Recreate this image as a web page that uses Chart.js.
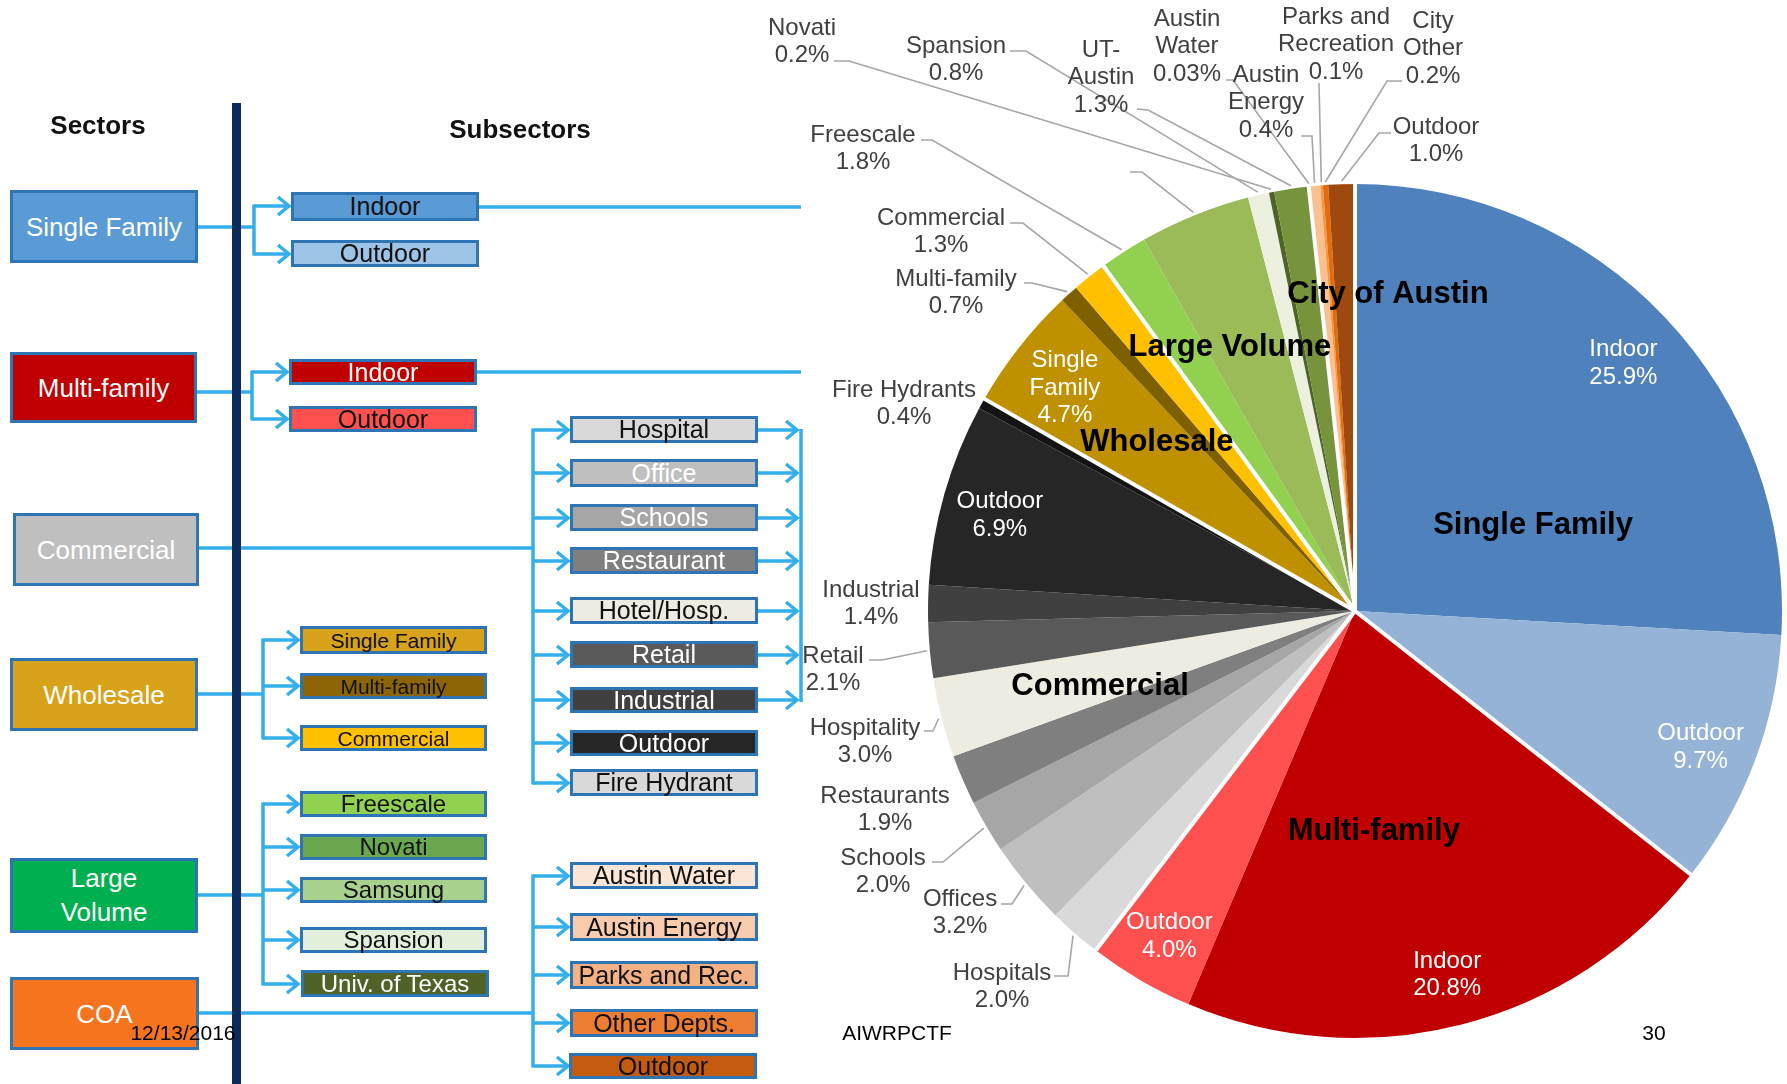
<!DOCTYPE html>
<html>
<head>
<meta charset="utf-8">
<script src="https://cdn.jsdelivr.net/npm/chart.js@4.4.1/dist/chart.umd.min.js"></script>
<style>
html,body{margin:0;padding:0;background:#fff;}
#stage{position:relative;width:1787px;height:1084px;overflow:hidden;font-family:"Liberation Sans",Arial,sans-serif;background:#fff;}
#pie{position:absolute;left:0;top:0;z-index:1;}
#diagram{position:absolute;left:0;top:0;width:1787px;height:1084px;z-index:2;}
#diagram svg{position:absolute;left:0;top:0;}
.box{position:absolute;box-sizing:border-box;border:3px solid #2E75B6;display:flex;align-items:center;justify-content:center;text-align:center;white-space:nowrap;line-height:1;}
.hdr{position:absolute;font-weight:bold;font-size:26px;color:#111;transform:translate(-50%,-50%);white-space:nowrap;}
.foot{position:absolute;font-size:21px;color:#000;transform:translate(-50%,-50%);white-space:nowrap;z-index:5;}
</style>
</head>
<body>
<div id="stage">
<canvas id="pie" width="1787" height="1084" style="width:1787px;height:1084px"></canvas>
<div id="diagram"></div>
</div>
<script>
// ---------------- DATA ----------------
const sliceNames = ['Indoor','Outdoor','Indoor','Outdoor','Hospitals','Offices','Schools','Restaurants','Hospitality','Retail','Industrial','Outdoor','Fire Hydrants','Single\nFamily','Multi-family','Commercial','Freescale','','Spansion','Novati','UT-\nAustin','Austin\nWater','Austin\nEnergy','Parks and\nRecreation','City\nOther','Outdoor'];
const sliceValues = [25.9,9.7,20.8,4.0,2.0,3.2,2.0,1.9,3.0,2.1,1.4,6.9,0.4,4.7,0.7,1.3,1.8,4.2,0.8,0.2,1.3,0.03,0.4,0.1,0.2,1.0];
const sliceSector = ['Single Family','Single Family','Multi-family','Multi-family','Commercial','Commercial','Commercial','Commercial','Commercial','Commercial','Commercial','Commercial','Commercial','Wholesale','Wholesale','Wholesale','Large Volume','Large Volume','Large Volume','Large Volume','Large Volume','City of Austin','City of Austin','City of Austin','City of Austin','City of Austin'];
const sectorNames = ['Single Family','Multi-family','Commercial','Wholesale','Large Volume','City of Austin'];
const insideSlices = [0,1,2,3,11,13];

// ---------------- STYLE / LAYOUT ----------------
const sliceColors = ['#4F81BD','#95B3D7','#C00000','#FF5050','#D9D9D9','#BFBFBF','#A6A6A6','#7F7F7F','#EEECE1','#595959','#404040','#262626','#141414','#BF9000','#7F6000','#FFC000','#92D050','#9BBB59','#EBF1DE','#4F6228','#77933C','#FDE9D9','#FAC090','#F79646','#E46C0A','#9E4A0E'];
// outside label layout, pixels relative to pie centre: text centre, leader start/elbow
const outsideLayout = {
  4:{t:[-353,359],l:[-301,365,-287,365]},
  5:{t:[-395,285],l:[-354,293,-343,293]},
  6:{t:[-472,244],l:[-423,251,-412,251]},
  7:{t:[-470,182],l:null},
  8:{t:[-490,114],l:[-431,120,-422,120]},
  9:{t:[-522,42],l:[-486,49,-473,49]},
  10:{t:[-484,-24],l:null},
  12:{t:[-451,-224],l:null},
  14:{t:[-399,-335],l:[-331,-328,-323,-328]},
  15:{t:[-414,-396],l:[-345,-388,-332,-388]},
  16:{t:[-492,-479],l:[-434,-471,-423,-471]},
  17:{t:null,l:[-225,-439,-213,-439]},
  18:{t:[-399,-568],l:[-345,-560,-329,-560]},
  19:{t:[-553,-586],l:[-521,-550,-506,-550]},
  20:{t:[-254,-564],l:[-218,-502,-207,-501]},
  21:{t:[-168,-595],l:[-129,-531,-122,-531]},
  22:{t:[-89,-539],l:[-54,-475,-43,-475]},
  23:{t:[-19,-597],l:[-36,-528,-36,-528]},
  24:{t:[78,-593],l:[47,-530,32,-530]},
  25:{t:[81,-487],l:[36,-478,24,-478]}
};
const sectorLabelPos = {'Single Family':[0.417,-0.206],'Multi-family':[0.044,0.511],'Commercial':[-0.597,0.171],'Wholesale':[-0.464,-0.400],'Large Volume':[-0.293,-0.621],'City of Austin':[0.077,-0.745]};

function pct(v){ return (v < 0.1 ? v.toFixed(2) : v.toFixed(1)) + '%'; }

const pieLabels = {
  id:'pieLabels',
  afterDatasetsDraw(chart){
    const ctx = chart.ctx;
    const arcs = chart.getDatasetMeta(0).data;
    const cx = arcs[0].x, cy = arcs[0].y, R = arcs[0].outerRadius;
    ctx.save();
    // white separators between sectors
    ctx.strokeStyle = '#fff'; ctx.lineWidth = 4; ctx.lineCap = 'butt';
    arcs.forEach((a,i)=>{
      if (i===0 || sliceSector[i] !== sliceSector[i-1]) {
        ctx.beginPath(); ctx.moveTo(cx,cy);
        ctx.lineTo(cx + (R+3)*Math.cos(a.startAngle), cy + (R+3)*Math.sin(a.startAngle));
        ctx.stroke();
      }
    });
    ctx.textAlign = 'center'; ctx.textBaseline = 'middle';
    ctx.font = '24px "Liberation Sans", Arial, sans-serif';
    const LH = 27.5;
    // inside labels
    insideSlices.forEach(i=>{
      const a = arcs[i]; const m = (a.startAngle + a.endAngle)/2;
      const lines = sliceNames[i].split('\n').concat([pct(sliceValues[i])]);
      const x = cx + R*0.865*Math.cos(m), y = cy + R*0.865*Math.sin(m) + 6;
      ctx.fillStyle = '#fff';
      const y0 = y - (lines.length-1)*LH/2;
      lines.forEach((s,k)=>ctx.fillText(s, x, y0 + k*LH));
    });
    // outside labels + leaders
    Object.keys(outsideLayout).forEach(key=>{
      const i = +key; const L = outsideLayout[i]; const a = arcs[i];
      const m = (a.startAngle + a.endAngle)/2;
      if (L.l) {
        ctx.strokeStyle = '#A6A6A6'; ctx.lineWidth = 1.6;
        ctx.beginPath();
        ctx.moveTo(cx + L.l[0], cy + L.l[1]);
        ctx.lineTo(cx + L.l[2], cy + L.l[3]);
        ctx.lineTo(cx + (R+3)*Math.cos(m), cy + (R+3)*Math.sin(m));
        ctx.stroke();
      }
      if (L.t && sliceNames[i]) {
        const lines = sliceNames[i].split('\n').concat([pct(sliceValues[i])]);
        ctx.fillStyle = '#404040';
        lines.forEach((s,k)=>ctx.fillText(s, cx + L.t[0], cy + L.t[1] + 3 + k*LH));
      }
    });
    // sector labels
    ctx.font = 'bold 31px "Liberation Sans", Arial, sans-serif';
    ctx.fillStyle = '#000';
    sectorNames.forEach(n=>{
      const p = sectorLabelPos[n];
      ctx.fillText(n, cx + p[0]*R, cy + p[1]*R + 2);
    });
    ctx.restore();
  }
};

new Chart(document.getElementById('pie'), {
  type:'pie',
  data:{ labels: sliceNames, datasets:[{ data: sliceValues, backgroundColor: sliceColors, borderWidth:0 }] },
  options:{
    responsive:false, animation:false, devicePixelRatio:1,
    layout:{ padding:{ left:928, right:5, top:184, bottom:46 } },
    plugins:{ legend:{display:false}, tooltip:{enabled:false} }
  },
  plugins:[pieLabels]
});

// ---------------- LEFT DIAGRAM ----------------
const diagram = document.getElementById('diagram');
const sectorBoxes = [
  ['Single Family',10,190,188,73,'#5B9BD5','#fff'],
  ['Multi-family',10,352,187,71,'#C00000','#fff'],
  ['Commercial',13,513,186,73,'#BFBFBF','#fff'],
  ['Wholesale',10,658,188,73,'#D8A31A','#fff'],
  ['Large<br>Volume',10,858,188,75,'#00B050','#fff'],
  ['COA',10,977,189,73,'#F7741F','#fff']
];
const subBoxes = [
  ['Indoor',291,192,188,29,'#5B9BD5','#111',25],
  ['Outdoor',291,240,188,27,'#9DC3E6','#111',25],
  ['Indoor',289,359,188,26,'#C00000','#fff',25],
  ['Outdoor',289,406,188,26,'#FF5050','#111',25],
  ['Hospital',570,416,188,27,'#D9D9D9','#111',25],
  ['Office',570,459,188,28,'#BFBFBF','#fff',25],
  ['Schools',570,504,188,27,'#A6A6A6','#fff',25],
  ['Restaurant',570,547,188,27,'#7F7F7F','#fff',25],
  ['Hotel/Hosp.',570,597,188,27,'#EEECE1','#111',25],
  ['Retail',570,641,188,27,'#595959','#fff',25],
  ['Industrial',570,687,188,26,'#404040','#fff',25],
  ['Outdoor',570,730,188,26,'#262626','#fff',25],
  ['Fire Hydrant',570,769,188,27,'#D9D9D9','#111',25],
  ['Single Family',300,626,187,28,'#D8A31A','#111',21],
  ['Multi-family',300,673,187,26,'#8B6508','#111',21],
  ['Commercial',300,725,187,26,'#FFC000','#111',21],
  ['Freescale',300,791,187,26,'#92D050','#111',24],
  ['Novati',300,834,187,26,'#6AA84F','#111',24],
  ['Samsung',300,877,187,26,'#A9D18E','#111',24],
  ['Spansion',300,927,187,26,'#E2EFDA','#111',24],
  ['Univ. of Texas',301,970,188,27,'#4F6228','#fff',24],
  ['Austin Water',570,862,188,27,'#FBE5D6','#111',25],
  ['Austin Energy',570,913,188,28,'#F8CBAD','#111',25],
  ['Parks and Rec.',570,961,188,28,'#F4B183','#111',25],
  ['Other Depts.',570,1009,188,28,'#ED7D31','#111',25],
  ['Outdoor',569,1053,188,26,'#C55A11','#111',25]
];
function addBox(t,x,y,w,h,bg,fg,fs){
  const d = document.createElement('div');
  d.className='box';
  d.style.cssText += `left:${x}px;top:${y}px;width:${w}px;height:${h}px;background:${bg};color:${fg};font-size:${fs}px;`;
  if (t.indexOf('<br>')>=0) d.style.lineHeight='1.27';
  d.innerHTML = t;
  diagram.appendChild(d);
}
const NS='http://www.w3.org/2000/svg';
const svg = document.createElementNS(NS,'svg');
svg.setAttribute('width','1787'); svg.setAttribute('height','1084');
diagram.appendChild(svg);
function pl(pts,color,w){
  const p = document.createElementNS(NS,'polyline');
  p.setAttribute('points', pts.map(q=>q.join(',')).join(' '));
  p.setAttribute('fill','none'); p.setAttribute('stroke',color); p.setAttribute('stroke-width',w);
  p.setAttribute('stroke-linejoin','miter'); p.setAttribute('stroke-linecap','butt');
  svg.appendChild(p);
}
const LC = '#33AFEC';
function arrow(x1,x2,y){
  pl([[x1,y],[x2-1,y]],LC,3.5);
  pl([[x2-11,y-9],[x2,y],[x2-11,y+9]],LC,3.5);
}
const connectors = [
  {from:[198,227], bx:254, tip:289, ys:[206,254]},
  {from:[197,392], bx:252, tip:287, ys:[372,419]},
  {from:[199,548], bx:533, tip:568, ys:[430,473,518,561,611,655,700,743,783]},
  {from:[198,694], bx:263, tip:298, ys:[640,686,738]},
  {from:[198,895], bx:263, tip:298, ys:[804,847,890,940,984]},
  {from:[199,1013], bx:533, tip:568, ys:[876,927,975,1023,1066]}
];
connectors.forEach(c=>{
  pl([c.from,[c.bx,c.from[1]]],LC,3.5);
  const all = c.ys.concat([c.from[1]]);
  pl([[c.bx,Math.min(...all)-1.5],[c.bx,Math.max(...all)+1.5]],LC,3.5);
  c.ys.forEach(y=>arrow(c.bx,c.tip,y));
});
[430,473,518,561,611,655,700].forEach(y=>arrow(758,797,y));
pl([[801,429],[801,702]],LC,3.5);
pl([[479,207],[801,207]],LC,3.5);
pl([[477,372],[801,372]],LC,3.5);
// navy divider
const nav = document.createElementNS(NS,'rect');
nav.setAttribute('x','232'); nav.setAttribute('y','103'); nav.setAttribute('width','9'); nav.setAttribute('height','990');
nav.setAttribute('fill','#0B2A5C'); svg.appendChild(nav);

sectorBoxes.forEach(b=>addBox(b[0],b[1],b[2],b[3],b[4],b[5],b[6],26));
subBoxes.forEach(b=>addBox(...b));

function addText(cls,t,x,y){
  const d=document.createElement('div'); d.className=cls; d.textContent=t;
  d.style.left=x+'px'; d.style.top=y+'px'; diagram.appendChild(d);
}
addText('hdr','Sectors',98,125);
addText('hdr','Subsectors',520,129);
addText('foot','12/13/2016',183,1033);
addText('foot','AIWRPCTF',897,1033);
addText('foot','30',1654,1033);
</script>
</body>
</html>
